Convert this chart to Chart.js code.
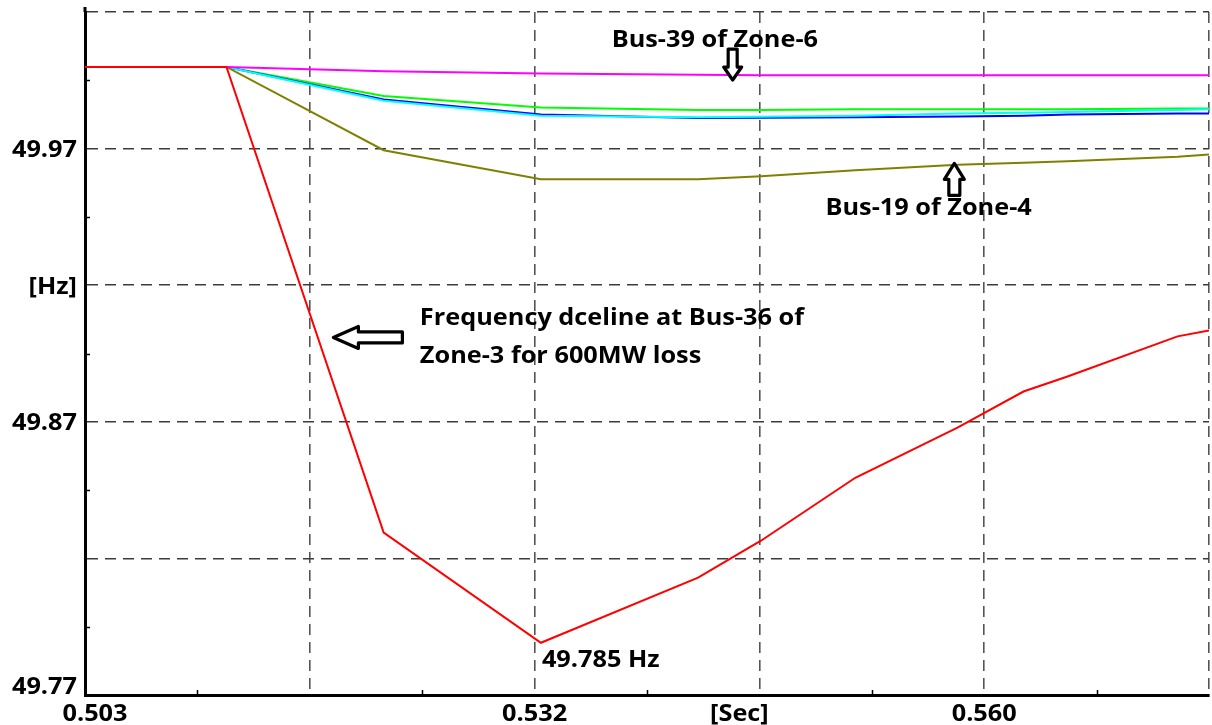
<!DOCTYPE html>
<html>
<head>
<meta charset="utf-8">
<script src="https://cdn.jsdelivr.net/npm/chart.js@4.4.1/dist/chart.umd.min.js"></script>
<style>
  html, body { margin: 0; padding: 0; background: #fff; }
  #freqChart { display: block; }
</style>
</head>
<body>
<canvas id="freqChart" width="1212" height="725"></canvas>
<script>
// sample times [s]
const timeSec = [0.503, 0.512, 0.522, 0.532, 0.542, 0.546, 0.552, 0.5585, 0.5627, 0.5655, 0.5725, 0.5745];

// bus frequencies [Hz] at those times
const bus36Zone3 = [50.0, 50.0, 49.8261, 49.785, 49.8093, 49.8231, 49.8466, 49.8653, 49.8788, 49.8844, 49.8994, 49.9016];
const bus39Zone6 = [50.0, 50.0, 49.9984, 49.9975, 49.9971, 49.9969, 49.9969, 49.9969, 49.9969, 49.9969, 49.9969, 49.9969];
const bus19Zone4 = [50.0, 50.0, 49.9689, 49.9581, 49.9581, 49.9592, 49.9614, 49.9635, 49.9642, 49.9648, 49.9665, 49.9673];
const busGreen   = [50.0, 50.0, 49.9891, 49.9848, 49.9839, 49.9839, 49.9842, 49.9842, 49.9842, 49.9842, 49.9845, 49.9845];
const busBlue    = [50.0, 50.0, 49.9878, 49.9822, 49.9809, 49.9810, 49.9812, 49.9815, 49.9818, 49.9822, 49.9826, 49.9826];
const busCyan    = [50.0, 50.0, 49.9874, 49.9818, 49.9812, 49.9814, 49.9818, 49.9826, 49.9829, 49.9832, 49.9839, 49.9842];

// grid positions and their printed labels
const xTickValues = [0.503, 0.5173, 0.5316, 0.5459, 0.5602, 0.5745];
const xTickLabels = ['0.503', '', '0.532', '[Sec]', '0.560', ''];
const yTickValues = [49.7655, 49.8165, 49.8675, 49.9185, 49.9695, 50.0205];
const yTickLabels = ['49.77', '', '49.87', '[Hz]', '49.97', ''];

const FONT = 'bold 23px "Open Sans"';
const STRETCH = 1.1;

function pts(values) {
  return timeSec.map((t, i) => ({ x: t, y: values[i] }));
}

// fillText with a slight horizontal stretch
function wideText(ctx, str, x, y, align) {
  const w = ctx.measureText(str).width * STRETCH;
  let left = x;
  if (align === 'right') left = x - w;
  else if (align === 'center') left = x - w / 2;
  ctx.save();
  ctx.translate(left, y);
  ctx.scale(STRETCH, 1);
  ctx.textAlign = 'left';
  ctx.fillText(str, 0, 0);
  ctx.restore();
}

// hollow block arrow, tip at (tx, ty) pointing along (dx, dy)
function blockArrow(ctx, tx, ty, dx, dy, len, head, headW, shaftW) {
  const nx = -dy, ny = dx;
  const local = [
    [0, 0], [head, -headW / 2], [head, -shaftW / 2], [len, -shaftW / 2],
    [len, shaftW / 2], [head, shaftW / 2], [head, headW / 2]
  ];
  ctx.beginPath();
  local.forEach(([u, v], i) => {
    const px = tx - u * dx + v * nx;
    const py = ty - u * dy + v * ny;
    if (i === 0) ctx.moveTo(px, py); else ctx.lineTo(px, py);
  });
  ctx.closePath();
  ctx.fillStyle = '#fff';
  ctx.fill();
  ctx.lineWidth = 3.2;
  ctx.lineJoin = 'round';
  ctx.strokeStyle = '#000';
  ctx.stroke();
}

const axisText = {
  id: 'axisText',
  afterDraw(chart, args, opts) {
    const { ctx, chartArea: a, scales: { x, y } } = chart;
    ctx.save();
    ctx.font = FONT;
    ctx.fillStyle = '#000';
    ctx.textBaseline = 'alphabetic';
    yTickValues.forEach((v, i) => {
      const py = y.getPixelForValue(v);
      const base = i === 0 ? py - 1 : py + 8.5;
      wideText(ctx, yTickLabels[i], a.left - 8, base, 'right');
    });
    xTickValues.forEach((v, i) => {
      const px = x.getPixelForValue(v) + opts.xShift[i];
      wideText(ctx, xTickLabels[i], px, a.bottom + 26, 'center');
    });
    ctx.restore();
  }
};

const minorTicks = {
  id: 'minorTicks',
  afterDraw(chart) {
    const { ctx, chartArea: a, scales: { x, y } } = chart;
    ctx.save();
    ctx.strokeStyle = '#000';
    ctx.lineWidth = 1.5;
    ctx.beginPath();
    for (let i = 0; i < yTickValues.length - 1; i++) {
      const py = Math.round(y.getPixelForValue((yTickValues[i] + yTickValues[i + 1]) / 2)) + 0.5;
      ctx.moveTo(a.left, py);
      ctx.lineTo(a.left + 5, py);
    }
    for (let i = 0; i < xTickValues.length - 1; i++) {
      const px = Math.round(x.getPixelForValue((xTickValues[i] + xTickValues[i + 1]) / 2)) + 0.5;
      ctx.moveTo(px, a.bottom);
      ctx.lineTo(px, a.bottom - 5);
    }
    ctx.stroke();
    // y axis line pokes a little above the plot
    ctx.lineWidth = 3;
    ctx.beginPath();
    ctx.moveTo(a.left, a.top);
    ctx.lineTo(a.left, a.top - 5);
    ctx.stroke();
    ctx.restore();
  }
};

const notes = {
  id: 'notes',
  afterDatasetsDraw(chart, args, opts) {
    const { ctx, scales: { x, y } } = chart;
    ctx.save();
    ctx.font = FONT;
    ctx.fillStyle = '#000';
    ctx.textBaseline = 'alphabetic';
    opts.labels.forEach(l => {
      wideText(ctx, l.text, x.getPixelForValue(l.t), y.getPixelForValue(l.f), 'left');
    });

    // value at the frequency nadir
    let k = 0;
    bus36Zone3.forEach((v, i) => { if (v < bus36Zone3[k]) k = i; });
    wideText(ctx, bus36Zone3[k].toFixed(3) + ' Hz',
      x.getPixelForValue(timeSec[k]) + 1, y.getPixelForValue(bus36Zone3[k]) + 24, 'left');

    opts.arrows.forEach(ar => {
      blockArrow(ctx, x.getPixelForValue(ar.t), y.getPixelForValue(ar.f),
        ar.dir[0], ar.dir[1], ar.len, ar.head, ar.headW, ar.shaftW);
    });
    ctx.restore();
  }
};

const line = (label, values, color) => ({
  label: label,
  data: pts(values),
  borderColor: color,
  backgroundColor: 'transparent',
  borderWidth: 2,
  pointRadius: 0,
  tension: 0,
  fill: false
});

new Chart(document.getElementById('freqChart'), {
  type: 'line',
  data: {
    datasets: [
      line('Bus-36 of Zone-3', bus36Zone3, '#ff0000'),
      line('Bus-39 of Zone-6', bus39Zone6, '#ff00ff'),
      line('Bus-19 of Zone-4', bus19Zone4, '#808000'),
      line('Cyan', busCyan, '#00ffff'),
      line('Blue', busBlue, '#0000ff'),
      line('Green', busGreen, '#00ff00')
    ]
  },
  options: {
    responsive: false,
    animation: false,
    devicePixelRatio: 1,
    layout: { padding: { top: 12, right: 3, left: 0, bottom: 0 } },
    plugins: {
      legend: { display: false },
      tooltip: { enabled: false },
      axisText: { xShift: [10, 0, 0, -20, 0, 0] },
      notes: {
        labels: [
          { text: 'Bus-39 of Zone-6', t: 0.5365, f: 50.0074 },
          { text: 'Bus-19 of Zone-4', t: 0.5501, f: 49.9446 },
          { text: 'Frequency dceline at Bus-36 of', t: 0.5243, f: 49.9035 },
          { text: 'Zone-3 for 600MW loss', t: 0.5243, f: 49.8896 }
        ],
        arrows: [
          { t: 0.5442, f: 49.9951, dir: [0, 1], len: 31, head: 13, headW: 18, shaftW: 9 },
          { t: 0.5583, f: 49.9640, dir: [0, -1], len: 32, head: 16, headW: 20, shaftW: 11 },
          { t: 0.5188, f: 49.8990, dir: [-1, 0], len: 69, head: 25, headW: 22, shaftW: 11 }
        ]
      }
    },
    scales: {
      x: {
        type: 'linear',
        min: xTickValues[0],
        max: xTickValues[xTickValues.length - 1],
        afterBuildTicks: s => { s.ticks = xTickValues.map(v => ({ value: v })); },
        afterFit: s => { s.height = 30; },
        ticks: { display: false },
        grid: { color: '#555', lineWidth: 1.6, drawTicks: false },
        border: { color: '#000', width: 3, dash: [11, 7] }
      },
      y: {
        type: 'linear',
        min: yTickValues[0],
        max: yTickValues[yTickValues.length - 1],
        afterBuildTicks: s => { s.ticks = yTickValues.map(v => ({ value: v })); },
        afterFit: s => { s.width = 85; },
        ticks: { display: false },
        grid: { color: '#3c3c3c', lineWidth: 1.6, drawTicks: false },
        border: { color: '#000', width: 3, dash: [11, 7] }
      }
    }
  },
  plugins: [axisText, minorTicks, notes]
});
</script>
</body>
</html>
